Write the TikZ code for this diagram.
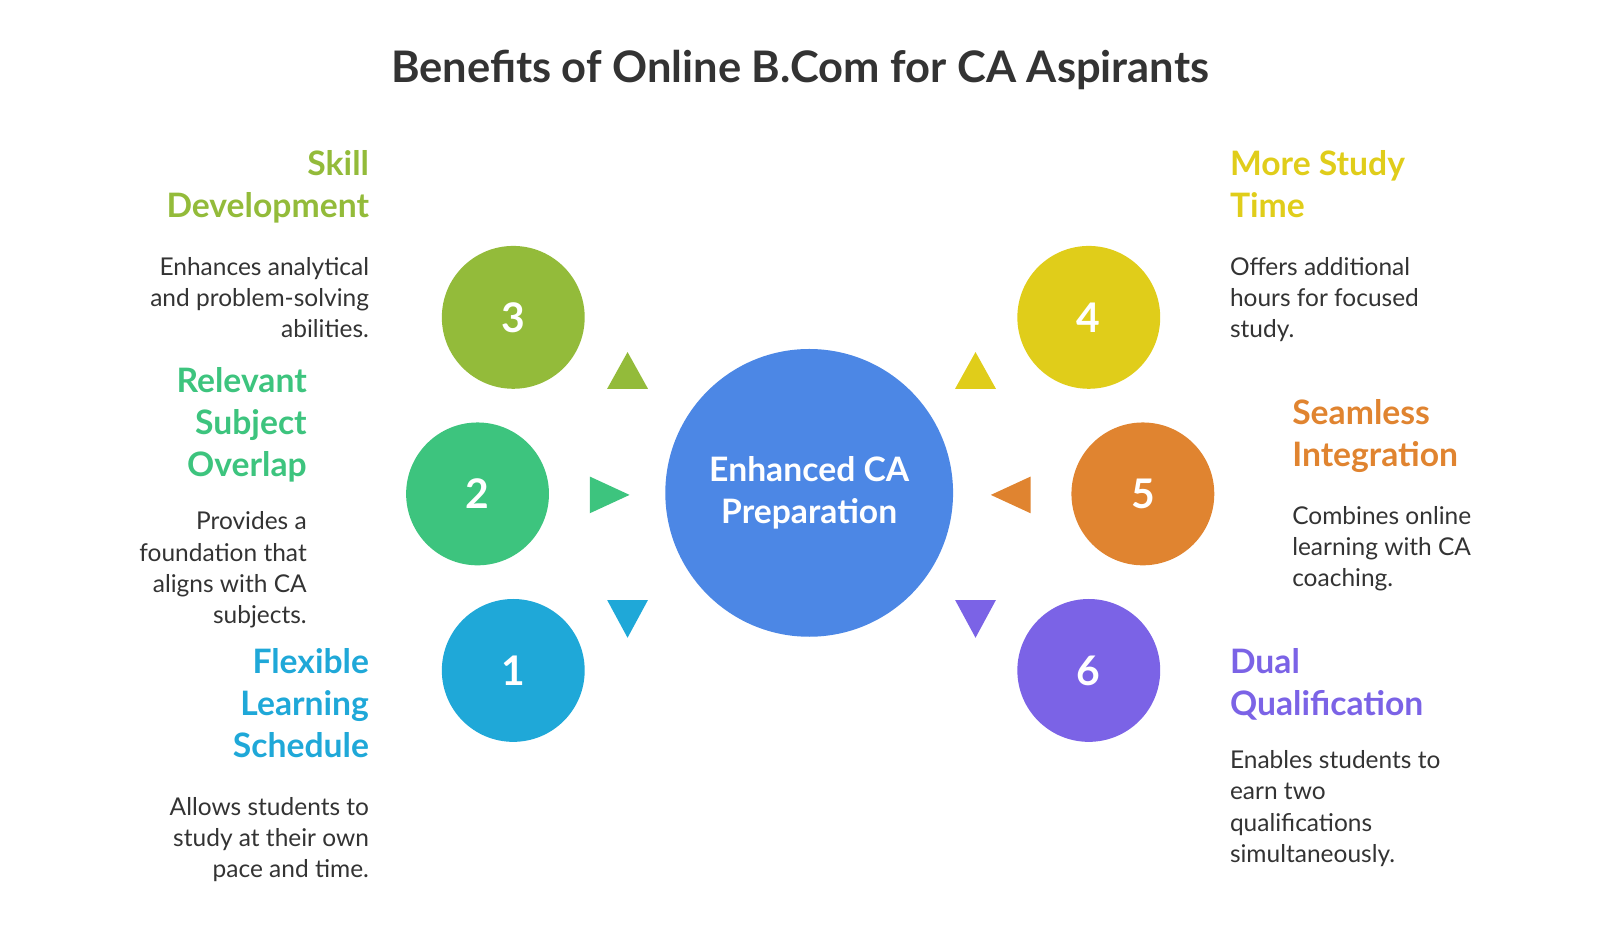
\documentclass[tikz,border=0pt]{standalone}
\usepackage{fontspec}
\setmainfont{Lato}
\begin{document}
\begin{tikzpicture}[x=0.5pt,y=-0.5pt,
  num/.style={circle,minimum size=70pt,inner sep=0pt,text=white,font=\fontsize{20}{24}\selectfont\bfseries},
  hd/.style={inner sep=0pt,font=\fontsize{16.5}{20.5}\selectfont\bfseries},
  bd/.style={inner sep=0pt,text=txt,font=\fontsize{12}{15.3}\selectfont},
  tri/.style={fill=#1,draw=none}]
\definecolor{txt}{HTML}{333333}
\definecolor{cA}{HTML}{1FA8D8}
\definecolor{cB}{HTML}{3DC47E}
\definecolor{cC}{HTML}{93BB3A}
\definecolor{cD}{HTML}{E0CD1A}
\definecolor{cE}{HTML}{E08430}
\definecolor{cF}{HTML}{7B63E6}
\definecolor{cM}{HTML}{4C87E5}
\useasboundingbox (0,0) rectangle (1568,912);
\node[inner sep=0pt,text=txt,font=\fontsize{21.3}{24}\selectfont\bfseries] (title) at (784,69) {Benefits of Online B.Com for CA Aspirants};
\node[circle,fill=cM,minimum size=141pt,inner sep=0pt,text=white,align=center,font=\fontsize{16.5}{20.5}\selectfont\bfseries] (mid) at (793,483) {Enhanced CA\\Preparation};
\node[num,fill=cC] (n3) at (503,311) {3};
\node[num,fill=cB] (n2) at (468,484) {2};
\node[num,fill=cA] (n1) at (503,657) {1};
\node[num,fill=cD] (n4) at (1067,311) {4};
\node[num,fill=cE] (n5) at (1120,484) {5};
\node[num,fill=cF] (n6) at (1067,657) {6};
\fill[cC] (595,381) -- (635,381) -- (615,345) -- cycle;
\fill[cB] (578,467) -- (578,503) -- (617,485) -- cycle;
\fill[cA] (595,588) -- (635,588) -- (615,625) -- cycle;
\fill[cD] (936,381) -- (976,381) -- (956,345) -- cycle;
\fill[cE] (1010,467) -- (1010,503) -- (971,485) -- cycle;
\fill[cF] (936,588) -- (976,588) -- (956,625) -- cycle;
\node[hd,text=cC,align=right,anchor=base east] (h3) at (362,213) {Skill\\Development};
\node[bd,align=right,anchor=base east] (b3) at (362,331) {Enhances analytical\\and problem-solving\\abilities.};
\node[hd,text=cB,align=right,anchor=base east] (h2) at (301,467) {Relevant\\Subject\\Overlap};
\node[bd,align=right,anchor=base east] (b2) at (301,611) {Provides a\\foundation that\\aligns with CA\\subjects.};
\node[hd,text=cA,align=right,anchor=base east] (h1) at (362,742) {Flexible\\Learning\\Schedule};
\node[bd,align=right,anchor=base east] (b1) at (362,860) {Allows students to\\study at their own\\pace and time.};
\node[hd,text=cD,align=left,anchor=base west] (h4) at (1205,213) {More Study\\Time};
\node[bd,align=left,anchor=base west] (b4) at (1205,331) {Offers additional\\hours for focused\\study.};
\node[hd,text=cE,align=left,anchor=base west] (h5) at (1266,457) {Seamless\\Integration};
\node[bd,align=left,anchor=base west] (b5) at (1266,575) {Combines online\\learning with CA\\coaching.};
\node[hd,text=cF,align=left,anchor=base west] (h6) at (1205,701) {Dual\\Qualification};
\node[bd,align=left,anchor=base west] (b6) at (1205,845) {Enables students to\\earn two\\qualifications\\simultaneously.};
\end{tikzpicture}
\end{document}
